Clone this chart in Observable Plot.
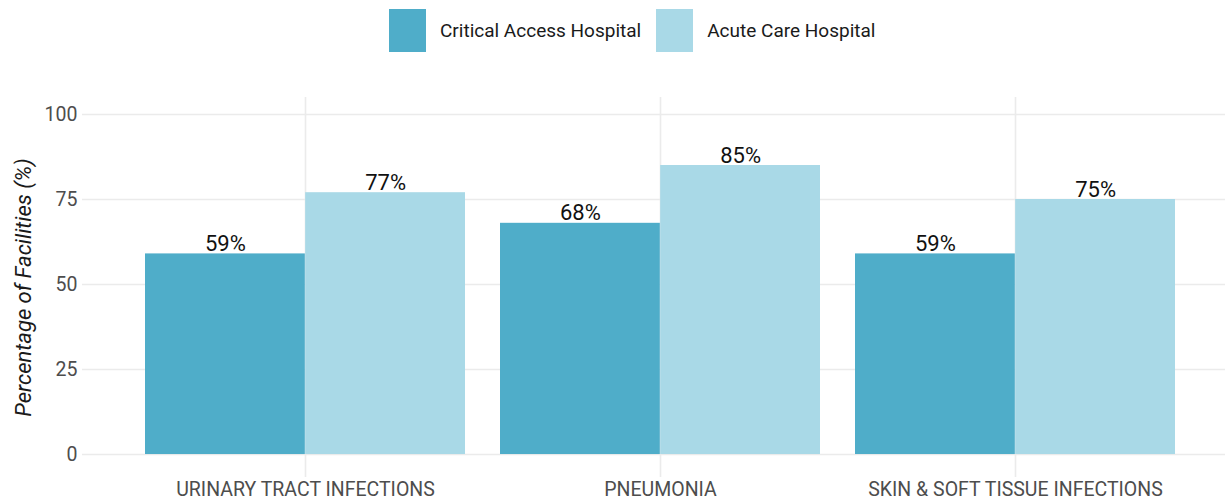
<!DOCTYPE html>
<html><head><meta charset="utf-8">
<script src="https://cdn.jsdelivr.net/npm/d3@7"></script>
<script src="https://cdn.jsdelivr.net/npm/@observablehq/plot@0.6"></script>
<style>
body{margin:0;background:#fff;font-family:Roboto, "Liberation Sans", sans-serif}
#legend{display:flex;align-items:center;height:60px;width:1225px;box-sizing:border-box;padding-left:389px;padding-top:1px}
.sw{width:37px;height:43px;flex:none}
.lt{font-size:19px;color:#1a1a1a;margin-left:14px;margin-right:15px;white-space:nowrap}
</style></head><body>
<div id="legend"></div><div id="chart"></div>
<script>
const categories = ["URINARY TRACT INFECTIONS", "PNEUMONIA", "SKIN & SOFT TISSUE INFECTIONS"];
const series = ["Critical Access Hospital", "Acute Care Hospital"];
const critical = [59, 68, 59];
const acute = [77, 85, 75];
const colors = ["#4fadc9", "#a9d9e7"];
const yTicks = [0, 25, 50, 75, 100];
const yTitle = "Percentage of Facilities (%)";

const legend = document.getElementById("legend");
series.forEach((s, i) => {
  const sw = document.createElement("div"); sw.className = "sw"; sw.style.background = colors[i];
  const t = document.createElement("div"); t.className = "lt"; t.textContent = s;
  legend.append(sw, t);
});

const rowsA = categories.map((c, i) => ({category: c, series: series[0], value: critical[i]}));
const rowsB = categories.map((c, i) => ({category: c, series: series[1], value: acute[i]}));

const xRange = [90, 1229];
const pIn = 0.1, pOut = 0.15;
const bw = d3.scaleBand().domain(categories).range(xRange).paddingInner(pIn).paddingOuter(pOut).bandwidth();

const chart = Plot.plot({
  width: 1225, height: 442,
  marginTop: 37, marginBottom: 25, marginLeft: 82, marginRight: 0,
  style: {fontSize: "19.5px", fontFamily: "Roboto, 'Liberation Sans', sans-serif", color: "#4d4d4d", background: "#fff"},
  x: {domain: categories, range: xRange, paddingInner: pIn, paddingOuter: pOut, tickSize: 0, tickPadding: 5, label: null},
  y: {domain: [-6.76, 105], ticks: yTicks, tickSize: 0, tickPadding: 5, label: null},
  color: {domain: series, range: colors},
  marks: [
    Plot.ruleY(yTicks, {stroke: "#ebebeb", strokeWidth: 1.6}),
    Plot.ruleX(categories, {stroke: "#ebebeb", strokeWidth: 1.6}),
    Plot.barY(rowsA, {x: "category", y: "value", fill: "series", insetRight: bw / 2}),
    Plot.barY(rowsB, {x: "category", y: "value", fill: "series", insetLeft: bw / 2}),
    Plot.text(rowsA, {x: "category", y: "value", text: d => d.value + "%", dx: -bw / 4, dy: -3, lineAnchor: "bottom", fontSize: 22, fill: "#111"}),
    Plot.text(rowsB, {x: "category", y: "value", text: d => d.value + "%", dx: bw / 4, dy: -3, lineAnchor: "bottom", fontSize: 22, fill: "#111"}),
    Plot.text([yTitle], {frameAnchor: "left", text: d => d, rotate: -90, dx: -59, textAnchor: "middle", lineAnchor: "middle", fontStyle: "italic", fontSize: 22, fill: "#1a1a1a"})
  ]
});
document.getElementById("chart").append(chart);
</script>
</body></html>
